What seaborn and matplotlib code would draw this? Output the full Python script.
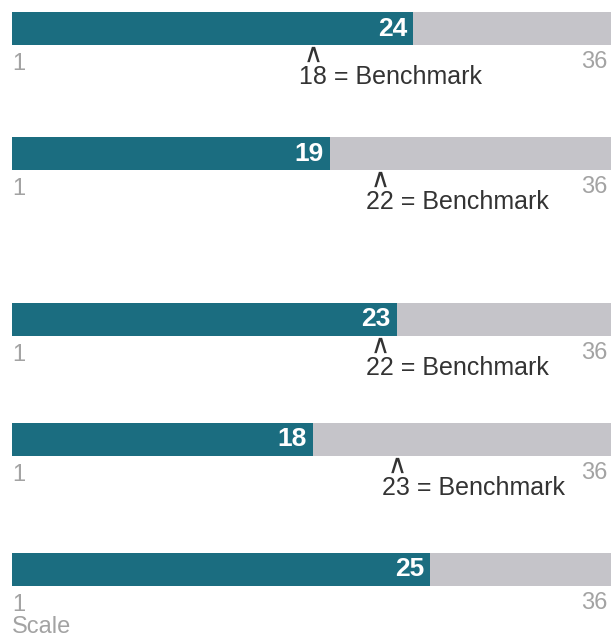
import matplotlib
matplotlib.use("Agg")
from matplotlib import pyplot as plt
import seaborn as sns

# values
values = [24, 19, 23, 18, 25]
benchmarks = [18, 22, 22, 23, None]
scale_min = 1
scale_max = 36

TEAL = "#1b6d80"
GRAY = "#c5c4c9"
LABEL_GRAY = "#a3a3a3"
DARK = "#333333"

W, H = 611, 639
row_tops = [12, 137, 303, 423, 553]   # pixel top of each bar
bar_h = 33
x0_px = 11.5
px_per_unit = 16.74


def draw_row(fig, top, value, bench, show_scale_label):
    left = x0_px / W
    width = scale_max * px_per_unit / W
    bottom = 1 - (top + bar_h) / H
    ax = fig.add_axes([left, bottom, width, bar_h / H])

    sns.barplot(x=[scale_max], y=[0], orient="h", color=GRAY, width=1,
                saturation=1, linewidth=0, ax=ax)
    sns.barplot(x=[value], y=[0], orient="h", color=TEAL, width=1,
                saturation=1, linewidth=0, ax=ax)
    ax.set_xlim(0, scale_max)
    ax.set_ylim(0.5, -0.5)
    ax.axis("off")

    ax.text(value - 0.35, 0, str(value), ha="right", va="center",
            color="white", fontsize=19, fontweight="bold")

    trans = ax.get_xaxis_transform()
    def fy(px):
        return -px / bar_h

    ax.text(0.05, fy(19), str(scale_min), ha="left", va="center",
            color=LABEL_GRAY, fontsize=17, transform=trans, clip_on=False)
    ax.text(35.6, fy(17), str(scale_max), ha="right", va="center",
            color=LABEL_GRAY, fontsize=17, transform=trans, clip_on=False)
    if show_scale_label:
        ax.text(0.05, fy(41), "Scale", ha="left", va="center",
                color=LABEL_GRAY, fontsize=17, transform=trans, clip_on=False)

    if bench is not None:
        # caret pointing at the benchmark position
        ax.plot([bench], [fy(9)], marker=r"$\wedge$", markersize=11,
                markeredgewidth=0, color=DARK, linestyle="none",
                transform=trans, clip_on=False)
        ax.text(bench - 0.85, fy(32), f"{bench} = Benchmark", ha="left",
                va="center", color=DARK, fontsize=18, transform=trans,
                clip_on=False)


def main():
    sns.set_style("white")
    plt.rcParams["font.family"] = ["Liberation Sans", "DejaVu Sans"]
    fig = plt.figure(figsize=(W / 100, H / 100), dpi=100)
    fig.patch.set_facecolor("white")

    for i, (top, v, b) in enumerate(zip(row_tops, values, benchmarks)):
        draw_row(fig, top, v, b, i == len(values) - 1)

    fig.savefig("out.png", dpi=100)


if __name__ == "__main__":
    main()
